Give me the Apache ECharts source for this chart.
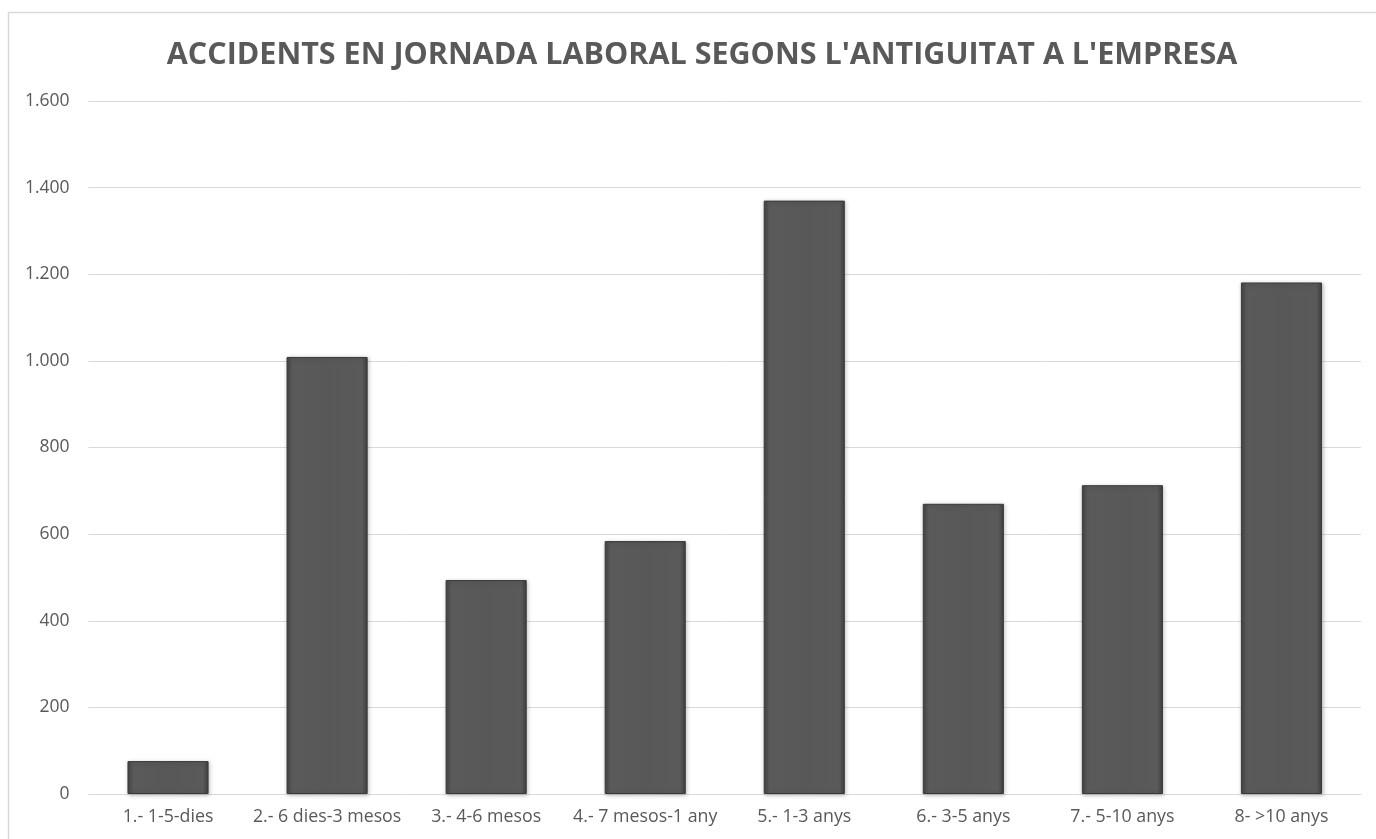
<!DOCTYPE html>
<html>
<head>
<meta charset="utf-8">
<script src="https://cdn.jsdelivr.net/npm/echarts@6/dist/echarts.min.js"></script>
<style>
    html, body { margin: 0; padding: 0; background: #fff; }
    #chart { width: 1376px; height: 839px; }
</style>
</head>
<body>
<div id="chart"></div>
<script>
    // categories and values
    const categories = ['1.- 1-5-dies', '2.- 6 dies-3 mesos', '3.- 4-6 mesos', '4.- 7 mesos-1 any',
        '5.- 1-3 anys', '6.- 3-5 anys', '7.- 5-10 anys', '8- >10 anys'];
    const accidents = [76, 1009, 494, 584, 1370, 670, 713, 1181];

    const myChart = echarts.init(document.getElementById('chart'));
    const fontFam = '"Open Sans", "Liberation Sans", sans-serif';

    let option = {
        backgroundColor: '#fff',
        animation: false,
        title: {
            text: "ACCIDENTS EN JORNADA LABORAL SEGONS L'ANTIGUITAT A L'EMPRESA",
            left: 697,
            textAlign: 'center',
            top: 35,
            textStyle: {
                color: '#595959',
                fontSize: 30.5,
                fontWeight: 'bold',
                fontFamily: fontFam
            }
        },
        graphic: [{
            type: 'rect',
            shape: { x: 8.5, y: 12.5, width: 1400, height: 900 },
            style: { fill: 'none', stroke: '#d9d9d9', lineWidth: 1.5 },
            silent: true
        }],
        grid: {
            left: 88.5,
            right: 15,
            top: 101,
            bottom: 45
        },
        xAxis: {
            type: 'category',
            data: categories,
            axisTick: { show: false },
            axisLine: { lineStyle: { color: '#d9d9d9', width: 1 } },
            axisLabel: {
                color: '#595959',
                fontSize: 17.8,
                fontFamily: fontFam,
                margin: 14,
                interval: 0
            }
        },
        yAxis: {
            type: 'value',
            min: 0,
            max: 1600,
            interval: 200,
            axisLine: { show: false },
            axisTick: { show: false },
            splitLine: { lineStyle: { color: '#d9d9d9', width: 1 } },
            axisLabel: {
                color: '#595959',
                fontSize: 17.5,
                fontFamily: fontFam,
                margin: 19,
                formatter: v => v.toLocaleString('de-DE')
            }
        },
        series: [{
            type: 'bar',
            data: accidents,
            barWidth: '51%',
            itemStyle: {
                color: new echarts.graphic.LinearGradient(0, 0, 1, 0, [
                    { offset: 0, color: '#454545' },
                    { offset: 0.07, color: '#5a5a5a' },
                    { offset: 0.5, color: '#585858' },
                    { offset: 0.93, color: '#5a5a5a' },
                    { offset: 1, color: '#404040' }
                ]),
                borderColor: '#3a3a3a',
                borderWidth: 1,
                shadowColor: 'rgba(0,0,0,0.25)',
                shadowBlur: 4,
                shadowOffsetX: 1,
                shadowOffsetY: 1
            }
        }]
    };
    myChart.setOption(option);
</script>
</body>
</html>
